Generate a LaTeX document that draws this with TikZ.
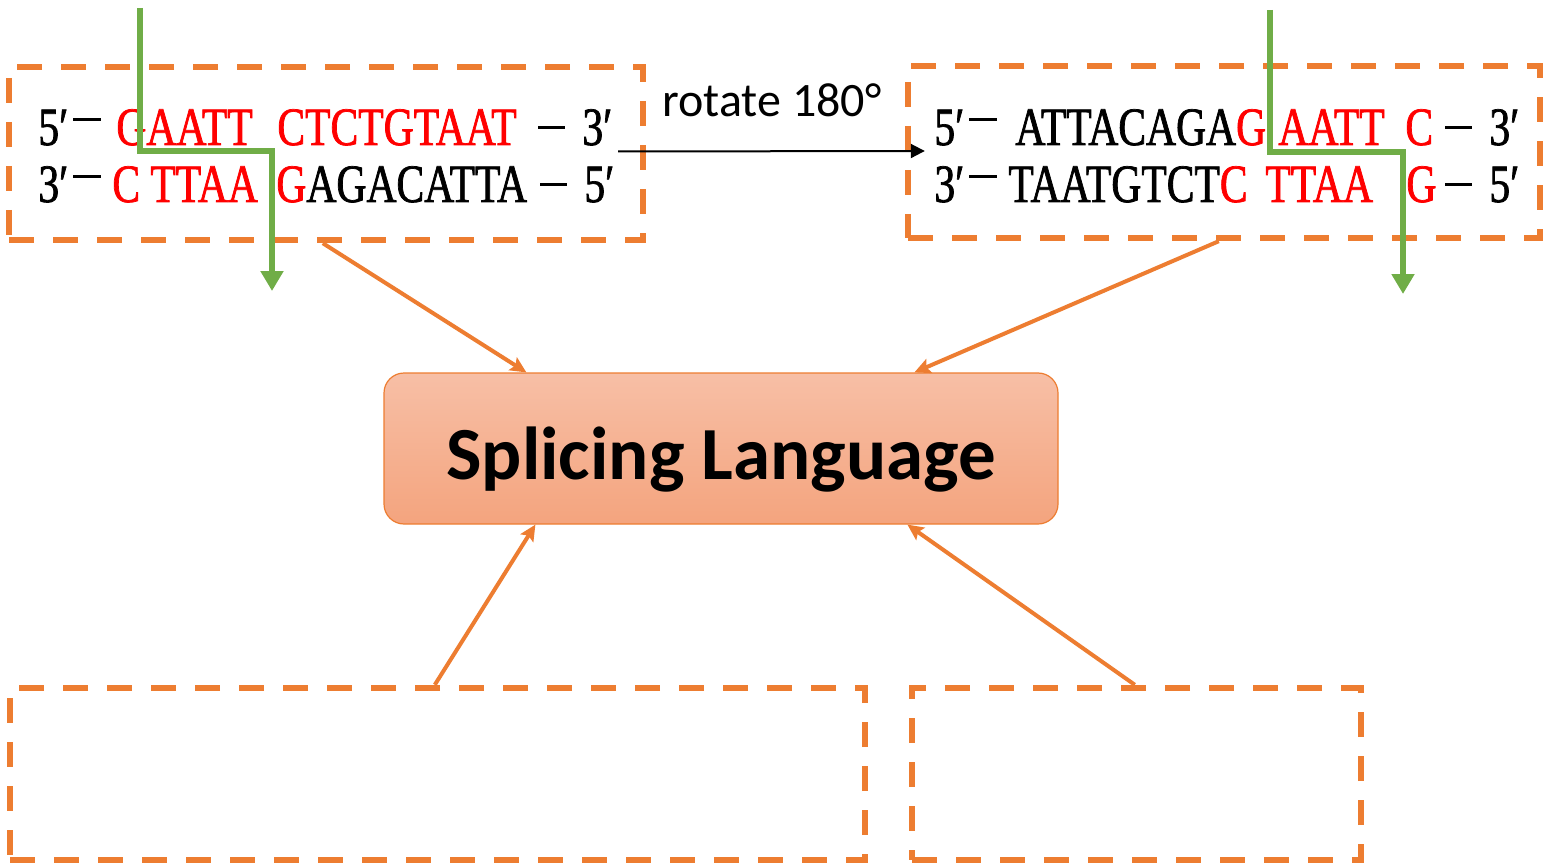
\documentclass[tikz,border=0pt]{standalone}
\usepackage{fontspec}
\usetikzlibrary{arrows.meta,calc,fit}
\newfontfamily\dnafont[FakeStretch=0.77,FakeBold=1.3]{Liberation Serif}
\newfontfamily\labelfont{Carlito}
\definecolor{boxorange}{HTML}{ED7D31}
\definecolor{cutgreen}{HTML}{70AD47}
\definecolor{seqred}{HTML}{FF0000}
\definecolor{langtop}{HTML}{F7BFA6}
\definecolor{langbot}{HTML}{F4A47E}
\newcommand\rs[1]{\textcolor{seqred}{#1}}
% strand-end dashes: a raised one after the leading label, a lower one before the trailing label
\newcommand\leaddash{\hspace{2.5pt}\rule[12pt]{14pt}{1.5pt}}
\newcommand\taildash{\rule[7.8pt]{13.5pt}{1.5pt}\hspace{8.5pt}}

\begin{document}
\begin{tikzpicture}[x=0.5pt,y=-0.5pt,
  dbox/.style={draw=boxorange, line width=3.2pt, dash pattern=on 12.5pt off 9.5pt, inner sep=0pt},
  seq/.style={anchor=base west, inner sep=0pt, font=\dnafont\fontsize{27}{30}\selectfont},
  link/.style={draw=boxorange, line width=2pt, -{Stealth[length=8pt,width=7.5pt,inset=1.5pt]}},
  cut/.style={draw=cutgreen, line width=2.6pt, -{Triangle[length=10pt,width=11pt]}},
  langbox/.style={draw=boxorange, line width=0.6pt, rounded corners=10pt,
    top color=langtop, bottom color=langbot, inner sep=0pt,
    minimum width=337pt, minimum height=75.5pt},
]
\useasboundingbox (0,0) rectangle (1546,866);

% dashed frames
\node[dbox, fit={(9,67) (643,240)}] (tl) {};
\node[dbox, fit={(908,66) (1540,238)}] (tr) {};
\node[dbox, fit={(10,688) (865,860)}] (bl) {};
\node[dbox, fit={(912,688) (1361,860)}] (br) {};

% central box
\node[langbox] (lang) at (721,448.5) {};
\node[anchor=base, inner sep=0pt, font=\labelfont\bfseries\fontsize{37.5}{40}\selectfont] (langtext) at (721,479) {Splicing Language};

% left strand pair
\node[seq] (l1a) at (38,145) {5′\leaddash};
\node[seq] (l1b) at (116,145) {\rs{GAATT}};
\node[seq] (l1c) at (277,145) {\rs{CTCTGTAAT}};
\node[seq] (l1d) at (538,145) {\taildash 3′};
\node[seq] (l2a) at (38,202) {3′\leaddash};
\node[seq] (l2b) at (112,202) {\rs{C}};
\node[seq] (l2c) at (150,202) {\rs{TTAA}};
\node[seq] (l2d) at (276,202) {\rs{G}AGACATTA};
\node[seq] (l2e) at (540,202) {\taildash 5′};

% right strand pair
\node[seq] (r1a) at (934,145) {5′\leaddash};
\node[seq] (r1b) at (1015,145) {ATTACAGA\rs{G}};
\node[seq] (r1c) at (1278,145) {\rs{AATT}};
\node[seq] (r1d) at (1405,145) {\rs{C}};
\node[seq] (r1e) at (1445,145) {\taildash 3′};
\node[seq] (r2a) at (934,202) {3′\leaddash};
\node[seq] (r2b) at (1008,202) {TAATGTCT\rs{C}};
\node[seq] (r2c) at (1265,202) {\rs{TTAA}};
\node[seq] (r2d) at (1406,202) {\rs{G}};
\node[seq] (r2e) at (1445,202) {\taildash 5′};

% rotation arrow
\node[anchor=base, inner sep=0pt, font=\labelfont\fontsize{24}{28}\selectfont] (rot) at (772,117) {rotate 180°};
\draw[line width=1pt, -{Triangle[length=7pt,width=7pt]}]
  ($(tl.east)+(-28,-2)$) -- ($(tr.west)+(20,-1)$);

% cut lines
\coordinate (gl0) at (140,8);
\coordinate (gl1) at (140,151);
\coordinate (gl2) at (272,151);
\coordinate (gl3) at (272,291);
\draw[cut] (gl0) -- (gl1) -- (gl2) -- (gl3);
\coordinate (gr0) at (1270,10);
\coordinate (gr1) at (1270,152);
\coordinate (gr2) at (1403,152);
\coordinate (gr3) at (1403,294);
\draw[cut] (gr0) -- (gr1) -- (gr2) -- (gr3);

% links into the central box
\draw[link] ($(tl.south west)+(317,0)$) -- ($(lang.north west)+(143,0)$);
\draw[link] ($(tr.south west)+(314,0)$) -- ($(lang.north west)+(531,0)$);
\draw[link] ($(bl.north west)+(428,0)$) -- ($(lang.south west)+(152,0)$);
\draw[link] ($(br.north west)+(226,0)$) -- ($(lang.south west)+(524,0)$);
\end{tikzpicture}
\end{document}
